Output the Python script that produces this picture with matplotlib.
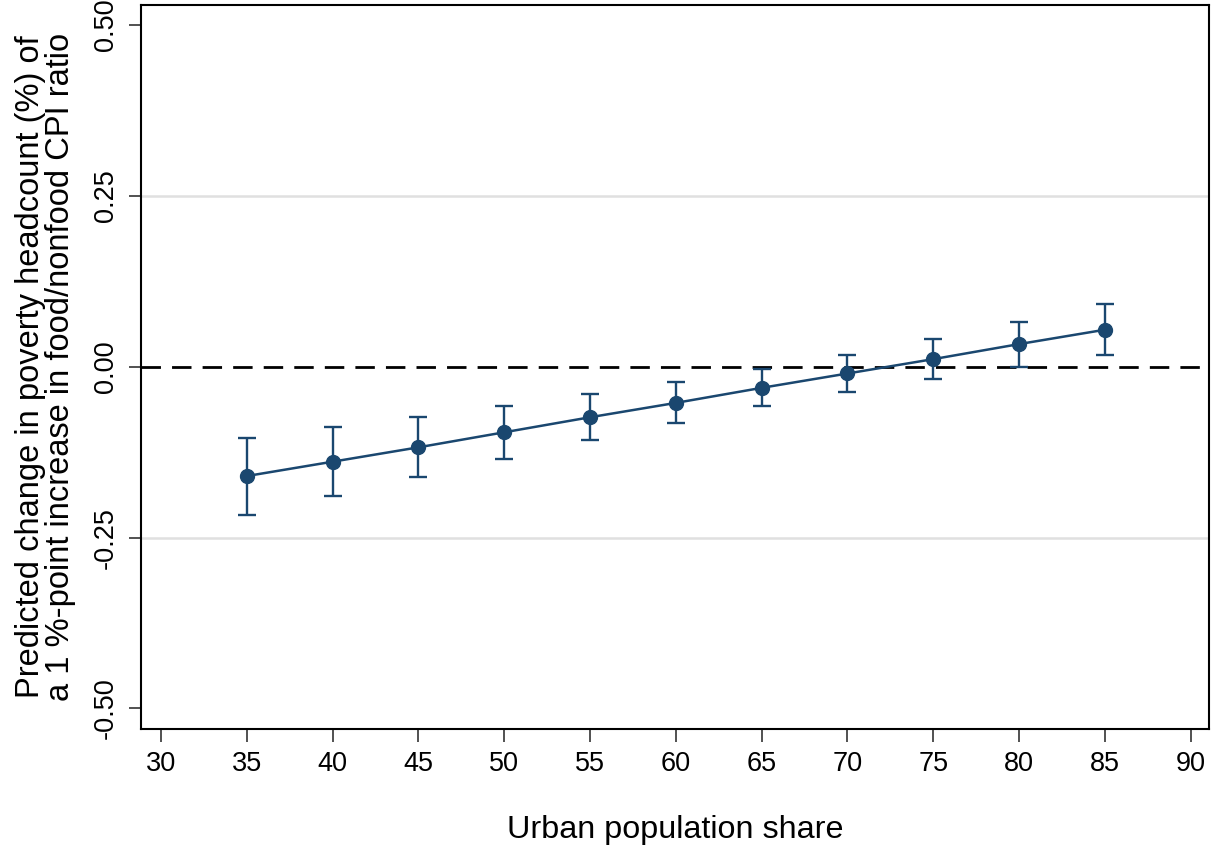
import matplotlib.pyplot as plt

plt.rcParams['font.family'] = ['Liberation Sans', 'DejaVu Sans']

# urban population share and predicted effect with 95% CI
urban_share = [35, 40, 45, 50, 55, 60, 65, 70, 75, 80, 85]
effect = [-0.160, -0.139, -0.118, -0.096, -0.074, -0.053, -0.031, -0.010, 0.011, 0.033, 0.054]
ci_low = [-0.217, -0.189, -0.162, -0.135, -0.108, -0.083, -0.058, -0.037, -0.018, -0.001, 0.017]
ci_high = [-0.104, -0.088, -0.073, -0.058, -0.040, -0.023, -0.004, 0.017, 0.040, 0.065, 0.091]

xticks = list(range(30, 95, 5))
yticks = [-0.50, -0.25, 0.00, 0.25, 0.50]

navy = '#1a476f'

fig = plt.figure(figsize=(12.11, 8.46), dpi=100)
ax = fig.add_axes([0.1164, 0.1383, 0.882, 0.8558])

for g in [-0.25, 0.25]:
    ax.axhline(g, color='#e0e0e0', lw=1.8, zorder=0)
ax.axhline(0, color='black', lw=2, dashes=(7, 4), zorder=1)

yerr = [[e - l for e, l in zip(effect, ci_low)], [h - e for e, h in zip(effect, ci_high)]]
ax.errorbar(urban_share, effect, yerr=yerr, color=navy, lw=1.8, elinewidth=1.7,
            capsize=6.5, capthick=1.7, marker='o', markersize=10, zorder=3)

ax.set_xlim(28.83, 91.07)
ax.set_ylim(-0.530, 0.529)
ax.set_xticks(xticks)
ax.set_yticks(yticks)
ax.set_yticklabels(['%.2f' % v for v in yticks], rotation=90, va='center')
ax.tick_params(axis='both', labelsize=19.5, length=9, width=1.2, color='#333333', pad=7)

for s in ax.spines.values():
    s.set_linewidth(1.5)

ax.set_xlabel('Urban population share', fontsize=23.3, labelpad=27)
ax.set_ylabel('Predicted change in poverty headcount (%) of\na 1 %-point increase in food/nonfood CPI ratio',
              fontsize=23.5, labelpad=12, linespacing=0.95)

fig.savefig('out.png', dpi=100)
